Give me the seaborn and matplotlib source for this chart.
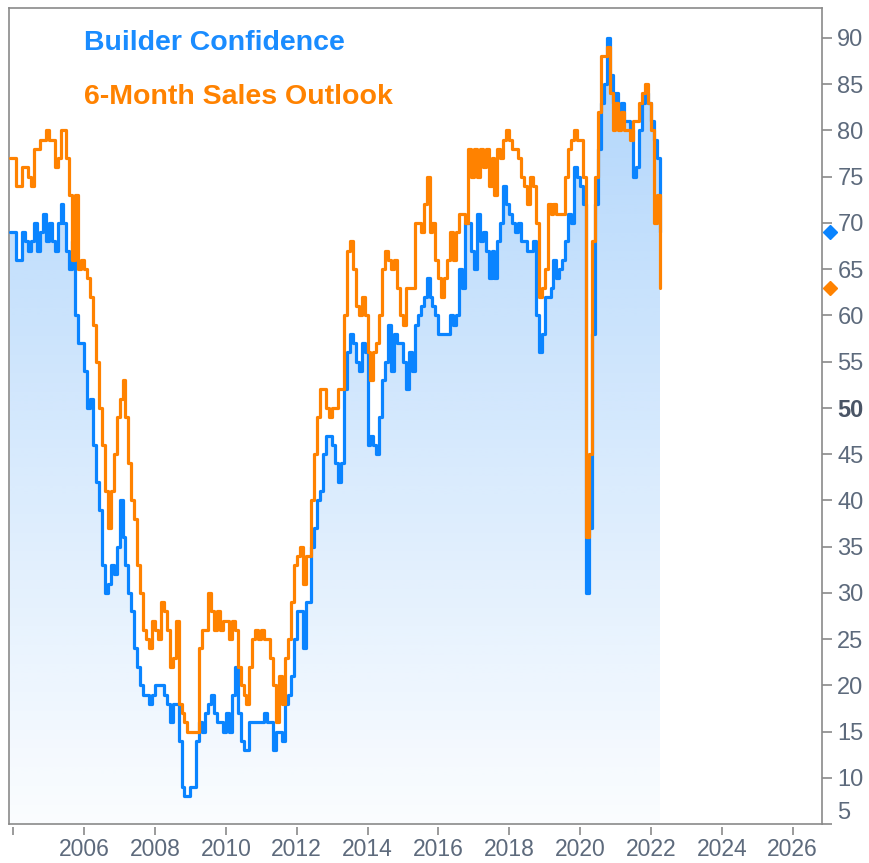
import numpy as np
import pandas as pd
import matplotlib
matplotlib.use("Agg")
import matplotlib.pyplot as plt
import seaborn as sns
from matplotlib.transforms import blended_transform_factory

# ---------------- data (monthly, Jan 2004 - May 2022) ----------------
builder_confidence = (
    [69, 69, 66, 66, 69, 68, 67, 68, 70, 67, 69, 71] +   # 2004
    [68, 70, 68, 67, 70, 72, 70, 67, 65, 68, 60, 57] +   # 2005
    [57, 54, 50, 51, 46, 42, 39, 33, 30, 31, 33, 32] +   # 2006
    [35, 40, 36, 33, 30, 28, 24, 22, 20, 19, 19, 18] +   # 2007
    [19, 20, 20, 20, 19, 18, 16, 18, 18, 14, 9, 8] +     # 2008
    [8, 9, 9, 14, 16, 15, 17, 18, 19, 17, 16, 16] +      # 2009
    [15, 17, 15, 19, 22, 17, 14, 13, 13, 16, 16, 16] +   # 2010
    [16, 16, 17, 16, 16, 13, 15, 15, 14, 18, 19, 21] +   # 2011
    [25, 28, 28, 24, 29, 29, 35, 37, 40, 41, 45, 47] +   # 2012
    [47, 46, 44, 42, 44, 52, 56, 58, 57, 55, 54, 57] +   # 2013
    [56, 46, 47, 46, 45, 49, 53, 55, 59, 54, 58, 57] +   # 2014
    [57, 55, 52, 56, 54, 59, 60, 61, 62, 64, 62, 61] +   # 2015
    [60, 58, 58, 58, 58, 60, 59, 60, 65, 63, 70, 70] +   # 2016
    [67, 65, 71, 68, 69, 67, 64, 67, 64, 68, 70, 74] +   # 2017
    [72, 71, 70, 69, 70, 68, 68, 67, 67, 68, 60, 56] +   # 2018
    [58, 62, 62, 63, 66, 64, 65, 66, 68, 71, 70, 76] +   # 2019
    [75, 74, 72, 30, 37, 58, 72, 78, 83, 85, 90, 86] +   # 2020
    [83, 84, 82, 83, 81, 81, 80, 75, 76, 80, 83, 84] +   # 2021
    [83, 81, 79, 77, 69]                                  # 2022
)
sales_outlook = (
    [77, 77, 74, 74, 76, 76, 75, 74, 78, 78, 79, 79] +   # 2004
    [80, 79, 79, 76, 77, 80, 80, 77, 73, 66, 73, 65] +   # 2005
    [66, 65, 64, 62, 59, 55, 50, 46, 41, 37, 41, 45] +   # 2006
    [49, 51, 53, 49, 44, 40, 38, 33, 30, 26, 25, 24] +   # 2007
    [27, 26, 25, 29, 28, 26, 22, 23, 27, 18, 17, 16] +   # 2008
    [15, 15, 15, 15, 24, 26, 26, 30, 28, 26, 28, 26] +   # 2009
    [27, 27, 25, 27, 26, 22, 20, 19, 18, 22, 25, 26] +   # 2010
    [25, 26, 25, 25, 23, 20, 16, 21, 18, 23, 25, 29] +   # 2011
    [33, 34, 35, 31, 34, 34, 40, 45, 49, 52, 52, 50] +   # 2012
    [49, 50, 50, 52, 52, 60, 67, 68, 65, 61, 60, 62] +   # 2013
    [60, 56, 53, 56, 57, 60, 65, 67, 66, 65, 66, 63] +   # 2014
    [60, 59, 63, 63, 63, 70, 70, 69, 72, 75, 69, 70] +   # 2015
    [66, 64, 62, 64, 66, 69, 66, 69, 71, 71, 70, 78] +   # 2016
    [75, 78, 75, 78, 76, 78, 74, 77, 73, 78, 77, 79] +   # 2017
    [80, 79, 78, 78, 77, 75, 74, 72, 75, 74, 70, 62] +   # 2018
    [63, 65, 72, 71, 72, 71, 71, 71, 75, 78, 79, 80] +   # 2019
    [79, 79, 75, 36, 45, 68, 75, 82, 88, 88, 89, 84] +   # 2020
    [80, 83, 80, 82, 80, 80, 79, 81, 81, 83, 84, 85] +   # 2021
    [83, 80, 70, 73, 63]                                  # 2022
)
series_names = ["Builder Confidence", "6-Month Sales Outlook"]
year_ticks = list(range(2004, 2027, 2))
year_labels = [""] + [str(y) for y in range(2006, 2027, 2)]
value_ticks = list(range(5, 91, 5))

# each month's step is drawn over the period that precedes its release date
dates = pd.date_range("2003-12-01", periods=len(builder_confidence), freq="MS")
xpos = dates.year + (dates.month - 1) / 12.0
df = pd.DataFrame({"x": xpos,
                   series_names[0]: builder_confidence,
                   series_names[1]: sales_outlook})

BLUE = "#0a84ff"
ORANGE = "#ff8200"
LABEL_C = "#5d6a7c"
FRAME_C = "#8a8a8a"
TICK_FONT = ["Liberation Sans", "DejaVu Sans"]

sns.set_theme(style="white")
plt.rcParams["font.family"] = ["Liberation Sans", "DejaVu Sans"]

fig = plt.figure(figsize=(8.69, 8.63), dpi=100)
ax = fig.add_axes([9 / 869, 39 / 863, 813 / 869, 816 / 863])

XMIN, XMAX = 2003.879, 2026.83
YMIN, YMAX = 5, 93.24

# gradient area under Builder Confidence
poly = ax.fill_between(df["x"], df[series_names[0]], 0, step="post",
                       facecolor="none", edgecolor="none")
rgb = matplotlib.colors.to_rgb("#1a86f5")
n = 256
img = np.zeros((n, 1, 4))
img[..., 0], img[..., 1], img[..., 2] = rgb
img[:, 0, 3] = np.linspace(0.02, 0.36, n)
im = ax.imshow(img, origin="lower", aspect="auto", interpolation="bilinear",
               extent=[XMIN, XMAX, YMIN, YMAX], zorder=1)
im.set_clip_path(poly.get_paths()[0], transform=ax.transData)

sns.lineplot(data=df, x="x", y=series_names[0], ax=ax, color=BLUE,
             linewidth=2.3, drawstyle="steps-post", zorder=3, legend=False)
sns.lineplot(data=df, x="x", y=series_names[1], ax=ax, color=ORANGE,
             linewidth=2.3, drawstyle="steps-post", zorder=4, legend=False)

ax.set_xlim(XMIN, XMAX)
ax.set_ylim(YMIN, YMAX)
ax.set_xlabel("")
ax.set_ylabel("")

for s in ax.spines.values():
    s.set_color(FRAME_C)
    s.set_linewidth(1.2)

# right value axis
ax.yaxis.tick_right()
ax.set_yticks(value_ticks)
ax.set_yticklabels([str(v) for v in value_ticks])
ax.tick_params(axis="y", direction="out", length=7, width=1.2, color=FRAME_C,
               labelsize=17, labelcolor=LABEL_C, pad=4, right=True, left=False)
for lab in ax.get_yticklabels():
    lab.set_family(TICK_FONT)
    if lab.get_text() == "50":
        lab.set_fontweight("bold")
        lab.set_color("#4a5566")
    if lab.get_text() == "5":
        lab.set_va("bottom")

# bottom year axis (ticks offset slightly below frame)
ax.set_xticks([])
sec = ax.secondary_xaxis(-0.004)
sec.set_xticks(year_ticks)
sec.set_xticklabels(year_labels)
sec.spines["bottom"].set_visible(False)
sec.tick_params(axis="x", direction="out", length=6, width=1.2, color=FRAME_C,
                labelsize=16.5, labelcolor=LABEL_C, pad=2)
for lab in sec.get_xticklabels():
    lab.set_family(TICK_FONT)

# latest-value diamonds on the value axis
tr = blended_transform_factory(ax.transAxes, ax.transData)
ax.plot([1.0098], [builder_confidence[-1]], marker="D", ms=7, color=BLUE,
        transform=tr, clip_on=False, zorder=6)
ax.plot([1.0098], [sales_outlook[-1]], marker="D", ms=7, color=ORANGE,
        transform=tr, clip_on=False, zorder=6)

# series titles
ax.text(0.0923, 0.957, series_names[0], transform=ax.transAxes, color="#1a8cff",
        fontsize=20.5, fontweight="bold", va="center", ha="left",
        family=["Liberation Sans", "DejaVu Sans"])
ax.text(0.0923, 0.891, series_names[1], transform=ax.transAxes, color=ORANGE,
        fontsize=20.5, fontweight="bold", va="center", ha="left",
        family=["Liberation Sans", "DejaVu Sans"])

fig.savefig("out.png", dpi=100, facecolor="white")
